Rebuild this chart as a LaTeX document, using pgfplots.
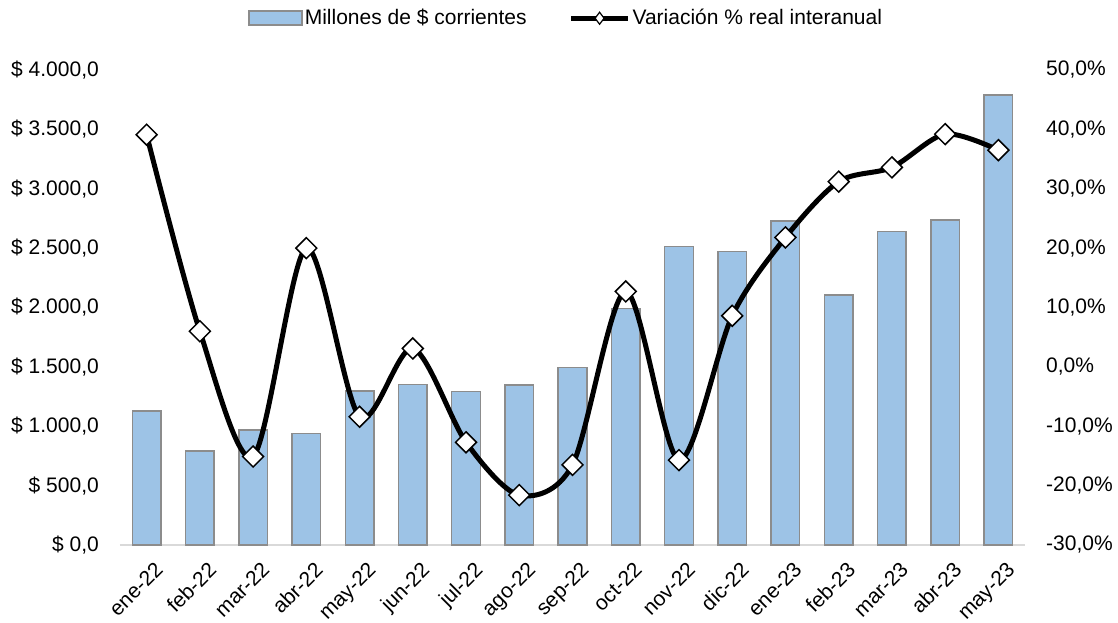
\documentclass[border=0pt]{standalone}
\usepackage{pgfplots}
\pgfplotsset{compat=1.18}
\usepackage{fontspec}
\setmainfont{Liberation Sans}
\definecolor{barblue}{HTML}{9DC3E6}
\definecolor{bargray}{HTML}{8C8C8C}
\definecolor{axgray}{HTML}{D9D9D9}
\newcommand{\fs}{\fontsize{21pt}{25pt}\selectfont}
\begin{document}
\fs
\begin{tikzpicture}
\useasboundingbox (-120pt,-78pt) rectangle (998pt,545pt);
\begin{axis}[
  at={(0pt,0pt)}, anchor=south west, scale only axis,
  width=905pt, height=475pt,
  xmin=-0.5, xmax=16.5, ymin=0, ymax=4000,
  axis x line*=bottom, axis y line*=left,
  y axis line style={draw=none},
  x axis line style={axgray, line width=1.8pt},
  major tick length=0pt,
  xtick={0,...,16},
  xticklabels={ene-22,feb-22,mar-22,abr-22,may-22,jun-22,jul-22,ago-22,sep-22,oct-22,nov-22,dic-22,ene-23,feb-23,mar-23,abr-23,may-23},
  x tick label style={rotate=45, anchor=north east, font=\fs, xshift=1pt, yshift=-9pt},
  ytick={0,500,...,4000},
  yticklabels={{\$ 0,0},{\$ 500,0},{\$ 1.000,0},{\$ 1.500,0},{\$ 2.000,0},{\$ 2.500,0},{\$ 3.000,0},{\$ 3.500,0},{\$ 4.000,0}},
  y tick label style={font=\fs, xshift=-14pt},
]
\addplot[ybar, bar width=28.6pt, fill=barblue, draw=bargray, line width=1.5pt] coordinates {
(0,1128) (1,792) (2,968) (3,941) (4,1297) (5,1353) (6,1291) (7,1347) (8,1493)
(9,1993) (10,2512) (11,2470) (12,2728) (13,2105) (14,2638) (15,2737) (16,3789)};
\end{axis}
\begin{axis}[
  at={(0pt,0pt)}, anchor=south west, scale only axis,
  width=905pt, height=475pt,
  xmin=-0.5, xmax=16.5, ymin=-30, ymax=50,
  axis x line=none, axis y line*=right,
  y axis line style={draw=none},
  major tick length=0pt,
  ytick={-30,-20,...,50},
  yticklabels={{-30,0\%},{-20,0\%},{-10,0\%},{0,0\%},{10,0\%},{20,0\%},{30,0\%},{40,0\%},{50,0\%}},
  y tick label style={font=\fs, xshift=14pt},
  legend style={at={(0.493,1.109)}, anchor=center, draw=none, fill=none,
    font=\fs, inner sep=0pt,
    /tikz/every even column/.append style={column sep=40pt}},
  legend columns=2,
]
\addlegendimage{legend image code/.code={\draw[fill=barblue, draw=bargray, line width=1.5pt] (0pt,-7pt) rectangle (53pt,7pt);}}
\addlegendentry{Millones de \$ corrientes}
\addplot[black, line width=5pt, smooth, mark=square*, mark size=7.4pt,
  mark options={rotate=45, fill=white, draw=black, line width=1.5pt},
  legend image code/.code={\draw[black,line width=5pt] (0pt,0pt)--(57pt,0pt);
    \draw[black,fill=white,line width=1.2pt] (28.5pt,-6pt)--(33pt,0pt)--(28.5pt,6pt)--(24pt,0pt)--cycle;}]
coordinates {
(0,39.1) (1,6.0) (2,-15.1) (3,20.0) (4,-8.4) (5,3.1) (6,-12.7) (7,-21.6) (8,-16.5)
(9,12.7) (10,-15.7) (11,8.6) (12,21.8) (13,31.2) (14,33.6) (15,39.2) (16,36.5)};
\addlegendentry{Variación \% real interanual}
\end{axis}
\end{tikzpicture}
\end{document}
